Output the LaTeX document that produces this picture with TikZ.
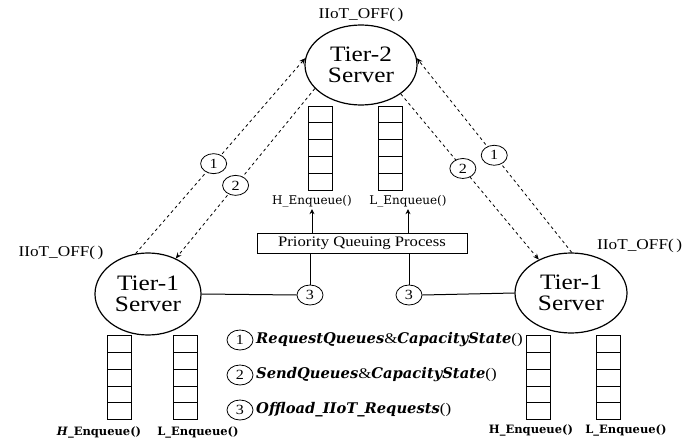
\documentclass[tikz,border=0pt]{standalone}
\usepackage{fontspec}
\setmainfont{Liberation Serif}[FakeStretch=1.15]
\newfontfamily\lgfont{DejaVu Serif}
\usetikzlibrary{arrows.meta,shapes.geometric,calc}
\newcommand\lgb[1]{{\lgfont\bfseries\itshape #1}}
\begin{document}
\begin{tikzpicture}[x=1pt,y=-1pt,
  server/.style={draw,ellipse,line width=1.2pt,minimum width=112pt,minimum height=80pt,inner sep=0pt,align=center,font=\fontsize{22}{21}\selectfont},
  queue/.style={draw,line width=0.8pt,minimum width=24pt,minimum height=84pt,inner sep=0pt,
    path picture={\foreach \i in {1,...,4}{\draw[line width=0.8pt] ($(path picture bounding box.north west)!\i/5!(path picture bounding box.south west)$) -- ++(30pt,0);}}},
  num/.style={draw,solid,ellipse,fill=white,minimum width=26pt,minimum height=20pt,inner sep=0pt,font=\fontsize{14}{14}\selectfont,line width=0.8pt},
  lbl/.style={font=\fontsize{15}{15}\selectfont,inner sep=0pt},
  qlbl/.style={font=\lgfont\fontsize{12}{12}\selectfont,inner sep=0pt},
  qlblb/.style={font=\lgfont\bfseries\fontsize{11.5}{12}\selectfont,inner sep=0pt},
  dashedarrow/.style={dashed,line width=0.8pt,-{Stealth[length=6pt,width=5pt]}},
  solid line/.style={line width=1pt},
  legendtext/.style={anchor=west,inner sep=0pt,font=\fontsize{14.7}{15}\selectfont},
]
\useasboundingbox (0,0) rectangle (687,441);
\fill[white] (0,0) rectangle (687,441);

% servers
\node[server] (t2) at (361,65) {Tier-2\\Server};
\node[server,minimum width=106pt,minimum height=82pt] (t1L) at (148,294) {Tier-1\\Server};
\node[server] (t1R) at (571,293) {Tier-1\\Server};

% IIoT_OFF labels
\node[lbl] (iot2) at (361,15) {IIoT\_OFF(\,)};
\node[lbl] (iotL) at (61,253) {IIoT\_OFF(\,)};
\node[lbl,anchor=west] (iotR) at (597,246) {IIoT\_OFF(\,)};

% Tier-2 queues
\node[queue] (hq2) at (320.5,148) {};
\node[queue] (lq2) at (390,148) {};
\node[qlbl] (h2lbl) at (312,201) {H\_Enqueue()};
\node[qlbl] (l2lbl) at (408,201) {L\_Enqueue()};

% Tier-1 left queues
\node[queue] (hqL) at (119.5,377.5) {};
\node[queue] (lqL) at (185.5,377.5) {};
\node[qlblb] (hLlbl) at (99,432) {\textit{H}\_Enqueue()};
\node[qlblb] (lLlbl) at (198,432) {L\_Enqueue()};

% Tier-1 right queues
\node[queue] (hqR) at (538.5,377.5) {};
\node[queue] (lqR) at (608.5,377.5) {};
\node[qlblb] (hRlbl) at (531,430) {H\_Enqueue()};
\node[qlblb] (lRlbl) at (626,430) {L\_Enqueue()};

% priority queuing process
\node[draw,line width=0.6pt,minimum width=210pt,minimum height=20pt,inner sep=0pt,font=\fontsize{14.5}{15}\selectfont] (pq) at (362,243) {Priority Queuing Process};
\node[num] (c3L) at (310,295) {3};
\node[num] (c3R) at (409,295) {3};
\draw[solid line] (t1L.east) -- (c3L.west);
\draw[solid line] (c3R.east) -- (t1R.west);
\draw[solid line] (c3L.north) -- (c3L.north |- pq.south);
\draw[solid line] (c3R.north) -- (c3R.north |- pq.south);
\draw[line width=1pt,-{Stealth[length=5pt,width=5pt]}] (h2lbl.south |- pq.north) -- ([yshift=-2pt]h2lbl.south);
\draw[line width=1pt,-{Stealth[length=5pt,width=5pt]}] (l2lbl.south |- pq.north) -- ([yshift=-2pt]l2lbl.south);

% dashed arrows
\draw[dashedarrow] (t1L.107) -- node[num,pos=0.46] (n1L) {1} (t2.173);
\draw[dashedarrow] (t2.207) -- node[num,pos=0.57] (n2L) {2} (t1L.52);
\draw[dashedarrow] (t1R.89) -- node[num,pos=0.5] (n1R) {1} (t2.7);
\draw[dashedarrow] (t2.324) -- node[num,pos=0.45] (n2R) {2} (t1R.134);

% legend
\node[num] (k1) at (240,340) {1};
\node[num] (k2) at (240,375) {2};
\node[num] (k3) at (240,410) {3};
\node[legendtext] (k1t) at (256,340) {\lgb{RequestQueues}\&\lgb{CapacityState}()};
\node[legendtext] (k2t) at (256,375) {\lgb{SendQueues}\&\lgb{CapacityState}()};
\node[legendtext] (k3t) at (256,410) {\lgb{Offload\_IIoT\_Requests}()};
\end{tikzpicture}
\end{document}
